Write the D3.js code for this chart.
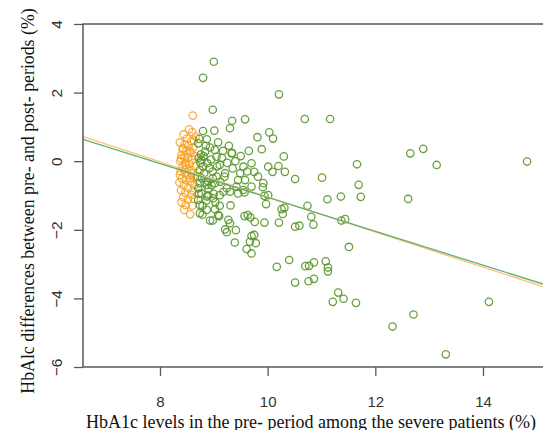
<!DOCTYPE html>
<html>
<head>
<meta charset="utf-8">
<script src="https://cdn.jsdelivr.net/npm/d3@7"></script>
<style>
  html, body { margin: 0; padding: 0; background: #fff; }
  svg { display: block; }
</style>
</head>
<body>
<svg id="chart" width="543" height="430"></svg>
<script>
// ---------------- DATA ----------------
const xTicks = [8, 10, 12, 14];
const yTicks = [-6, -4, -2, 0, 2, 4];
const xLabel = "HbA1c levels in the pre- period among the severe patients (%)";
const yLabel = "HbAlc differences between pre- and post- periods (%)";

// orange group (x = pre-period HbA1c, y = difference)
const orangeX = [8.61, 8.54, 8.60, 8.66, 8.50, 8.58, 8.46, 8.53, 8.62, 8.42, 8.49, 8.57, 8.40, 8.45, 8.52, 8.60, 8.38, 8.47, 8.55, 8.42, 8.50, 8.58, 8.38, 8.46, 8.53, 8.62, 8.41, 8.49, 8.57, 8.44, 8.52, 8.39, 8.47, 8.58, 8.43, 8.52, 8.40, 8.48, 8.60, 8.45, 8.56, 8.65, 8.66, 8.64,
  8.37, 8.44, 8.51, 8.59, 8.36, 8.43, 8.55, 8.63, 8.39, 8.48, 8.61, 8.37, 8.56, 8.45, 8.63];
const orangeY = [1.33, 0.93, 0.85, 0.72, 0.66, 0.58, 0.50, 0.45, 0.40, 0.35, 0.30, 0.25, 0.18, 0.12, 0.10, 0.05, 0.00, -0.05, -0.08, -0.15, -0.20, -0.25, -0.30, -0.35, -0.40, -0.45, -0.50, -0.55, -0.60, -0.70, -0.78, -0.85, -0.92, -0.98, -1.05, -1.12, -1.20, -1.28, -1.30, -1.42, -1.55, 0.15, -0.15, -0.70,
  0.55, 0.78, 0.22, -0.35, -0.62, 0.38, -0.50, 0.60, 0.08, -0.12, -0.85, -0.40, 0.30, -0.25, -1.10];

// green group
const greenX = [8.80, 9.00, 10.21, 8.98, 9.34, 9.58, 9.30, 8.80, 9.01, 10.69, 11.16, 8.87, 9.81, 10.03, 10.10, 9.89, 9.34, 10.30, 10.51, 12.65, 12.89, 13.14, 14.82, 11.66, 11.01, 11.69, 11.11, 11.36, 11.73, 12.61, 10.74, 10.81, 10.85, 10.51, 10.59, 11.37, 11.44, 11.51, 10.70, 10.77, 10.86, 11.08, 11.12, 11.12, 10.76, 10.86, 11.31, 11.21, 11.41, 11.64, 14.11, 12.71, 12.32, 13.31,
  9.31, 9.57, 9.63, 9.68, 9.76, 9.94, 10.21, 10.28, 10.26, 10.31, 9.27, 9.30, 9.21, 9.24, 9.41, 9.39, 9.70, 9.75, 9.78, 9.67, 9.61, 9.70, 10.17, 10.40, 10.51, 8.93, 8.98, 9.10, 8.79, 8.74, 9.97, 9.94, 10.01, 9.91, 9.92, 9.57, 9.45, 9.30, 9.11, 9.02, 8.87, 8.74, 8.87, 9.02, 9.24, 8.77, 8.87, 8.71, 8.99, 9.11, 8.74, 9.08,
  8.71, 8.84, 9.02, 9.05, 8.77, 8.88, 8.74, 9.11, 9.21, 9.35, 9.55, 9.70, 9.75, 9.49, 9.58, 9.33, 10.01, 10.09, 10.20, 10.32, 9.42, 8.89, 8.71, 9.18, 9.55, 9.70,
  8.76, 8.95, 8.82, 8.98, 9.05, 8.78, 9.15, 9.25, 8.90, 9.00, 9.12, 8.73, 9.28, 9.40, 9.50, 9.62, 9.45, 9.82, 9.65, 8.85, 9.08,
  8.72, 8.80, 8.92, 8.70, 8.83, 8.96, 8.72, 8.86, 9.03, 8.79, 8.93, 9.17, 8.75, 8.90, 9.06, 9.20, 8.81, 8.98];
const greenY = [2.43, 2.90, 1.95, 1.50, 1.18, 1.22, 0.96, 0.88, 0.89, 1.23, 1.23, 0.64, 0.70, 0.84, 0.66, 0.35, 0.24, 0.14, -0.52, 0.23, 0.36, -0.11, -0.01, -0.09, -0.48, -0.69, -1.11, -1.03, -1.04, -1.10, -1.30, -1.62, -1.85, -1.91, -1.88, -1.73, -1.69, -2.50, -3.06, -3.05, -2.95, -2.92, -3.10, -3.21, -3.50, -3.43, -3.83, -4.10, -4.01, -4.13, -4.10, -4.47, -4.82, -5.63,
  -1.29, -1.60, -1.57, -1.64, -1.77, -1.79, -1.79, -1.54, -1.40, -1.36, -1.71, -1.81, -1.99, -2.07, -2.01, -2.37, -2.18, -2.15, -2.39, -2.35, -2.56, -2.69, -3.08, -2.88, -3.54, -1.73, -1.73, -1.60, -1.56, -1.52, -1.25, -1.01, -0.99, -0.76, -0.64, -0.91, -0.94, -0.89, -1.30, -1.40, -1.42, -0.64, -0.69, -0.64, -0.79, -0.94, -1.03, -1.13, -1.08, -0.99, -1.28, -1.57,
  0.52, 0.28, 0.33, 0.13, 0.03, -0.06, -0.26, -0.11, -0.35, -0.21, -0.16, -0.06, -0.31, -0.35, -0.55, 0.23, -0.16, -0.31, -0.14, -0.31, -0.74, -0.58, -0.79, -0.89, -0.84, -0.74,
  0.20, 0.05, -0.35, -0.30, -0.45, -0.50, 0.10, -0.05, -0.80, -0.95, -0.60, 0.65, 0.45, 0.00, 0.15, -0.30, -0.55, -0.45, 0.30, 0.45, 0.55,
  0.10, -0.15, -0.20, -0.45, -0.62, -0.70, -0.95, -1.15, -1.20, -1.30, 0.40, 0.30, -0.05, -1.00, -0.15, -0.45, 0.15, -0.50];

// fitted lines: y = intercept + slope * x
const lineNames = ["orange", "green"];
const lineIntercepts = [4.08, 3.885];
const lineSlopes = [-0.512, -0.494];

// ---------------- STYLE ----------------
const W = 543, H = 430;
const plot = { left: 83, right: 543, top: 24, bottom: 367 };
const colors = {
  orange: "#f7a324",
  green: "#5a962c",
  orangeLine: "#ffbf73",
  greenLine: "#5eae72",
  axis: "#5a5a5a",
  text: "#333333"
};

const svg = d3.select("#chart");

const x = d3.scaleLinear().domain([6.57, 15.115]).range([plot.left, plot.right]);
const y = d3.scaleLinear().domain([-6, 4]).range([plot.bottom, plot.top]);

svg.append("defs").append("clipPath").attr("id", "clip")
  .append("rect").attr("x", plot.left).attr("y", plot.top)
  .attr("width", plot.right - plot.left).attr("height", plot.bottom - plot.top);

const orangePts = orangeX.map((v, i) => ({ x: v, y: orangeY[i] }));
const greenPts = greenX.map((v, i) => ({ x: v, y: greenY[i] }));

const gPts = svg.append("g").attr("clip-path", "url(#clip)");
gPts.selectAll("circle.o").data(orangePts).join("circle")
  .attr("class", "o")
  .attr("cx", d => x(d.x)).attr("cy", d => y(d.y)).attr("r", 3.7)
  .attr("fill", "none").attr("stroke", colors.orange).attr("stroke-width", 1.3).attr("stroke-opacity", 0.85);
gPts.selectAll("circle.g").data(greenPts).join("circle")
  .attr("class", "g")
  .attr("cx", d => x(d.x)).attr("cy", d => y(d.y)).attr("r", 3.7)
  .attr("fill", "none").attr("stroke", colors.green).attr("stroke-width", 1.3).attr("stroke-opacity", 0.9);

// regression lines
const xd = x.domain();
const lines = lineNames.map((n, i) => ({
  name: n,
  pts: xd.map(v => ({ x: v, y: lineIntercepts[i] + lineSlopes[i] * v }))
}));
const lineGen = d3.line().x(d => x(d.x)).y(d => y(d.y));
svg.append("g").attr("clip-path", "url(#clip)")
  .selectAll("path").data(lines).join("path")
  .attr("d", d => lineGen(d.pts))
  .attr("fill", "none")
  .attr("stroke", d => d.name === "orange" ? colors.orangeLine : colors.greenLine)
  .attr("stroke-width", 1.3);

// frame lines (left, top, bottom)
svg.append("path")
  .attr("d", `M${plot.right},${plot.top}H${plot.left}V${plot.bottom}H${plot.right}`)
  .attr("fill", "none").attr("stroke", colors.axis).attr("stroke-width", 1.5);

// axes
const xAxis = d3.axisBottom(x).tickValues(xTicks).tickSize(9).tickFormat(d3.format("d"));
const gx = svg.append("g").attr("transform", `translate(0,${plot.bottom})`).call(xAxis);
gx.select(".domain").remove();
gx.selectAll("line").attr("stroke", colors.axis).attr("stroke-width", 1.3);
gx.selectAll("text").attr("y", 40).attr("dy", 0)
  .attr("font-family", "Liberation Sans, Arial, sans-serif").attr("font-size", 15).attr("fill", colors.text);

const yAxis = d3.axisLeft(y).tickValues(yTicks).tickSize(9).tickFormat(d3.format("d"));
const gy = svg.append("g").attr("transform", `translate(${plot.left},0)`).call(yAxis);
gy.select(".domain").remove();
gy.selectAll("line").attr("stroke", colors.axis).attr("stroke-width", 1.3);
gy.selectAll("text")
  .attr("x", 0).attr("y", -21).attr("dy", 0)
  .attr("transform", "rotate(-90)")
  .attr("text-anchor", "middle")
  .attr("font-family", "Liberation Sans, Arial, sans-serif").attr("font-size", 15.5).attr("fill", colors.text);

// axis titles
svg.append("text")
  .attr("x", 311).attr("y", 427.5)
  .attr("text-anchor", "middle")
  .attr("font-family", "Liberation Serif, Times New Roman, serif").attr("font-size", 18)
  .attr("fill", "#111")
  .text(xLabel);

svg.append("text")
  .attr("transform", "translate(34,201) rotate(-90)")
  .attr("text-anchor", "middle")
  .attr("font-family", "Liberation Serif, Times New Roman, serif").attr("font-size", 17.8)
  .attr("fill", "#111")
  .text(yLabel);
</script>
</body>
</html>
